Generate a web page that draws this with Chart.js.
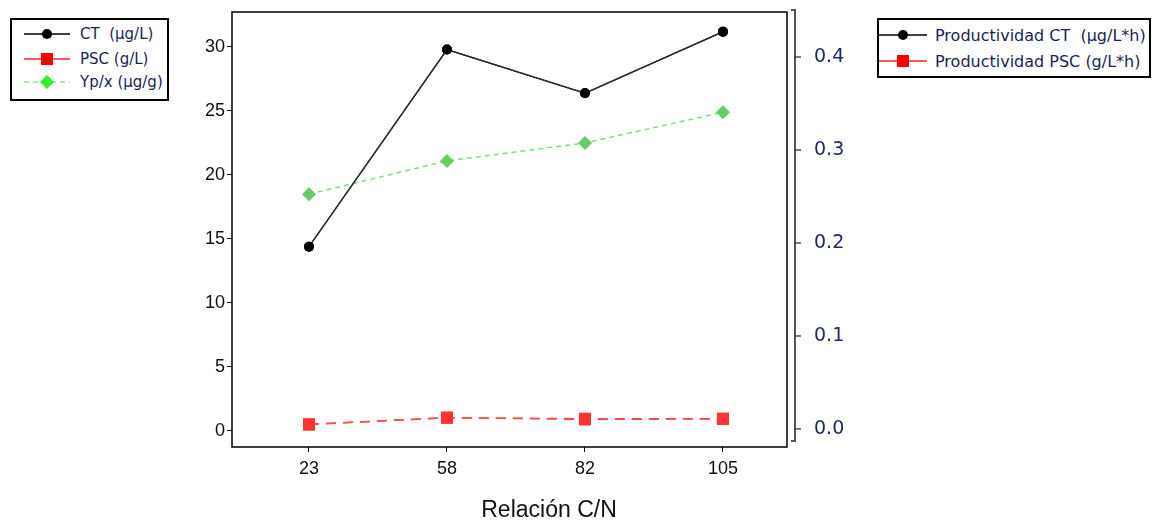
<!DOCTYPE html>
<html lang="es">
<head>
<meta charset="UTF-8">
<title>Relación C/N</title>
<script src="https://cdn.jsdelivr.net/npm/chart.js"></script>
<style>
    body { margin: 0; background: #fff; }
    #wrap { position: relative; width: 1156px; height: 523px; }
    #chart { position: absolute; left: 0; top: 0; }
    #tituloX {
        position: absolute;
        left: 449px; width: 200px; top: 495px;
        text-align: center;
        font-family: 'Liberation Sans', Arial, sans-serif;
        font-size: 23px;
        line-height: 28px;
        color: #111;
    }
    .legend {
        position: absolute;
        border: 2px solid #000;
        background: #fff;
        font-family: 'DejaVu Sans', sans-serif;
        color: #1b1f55;
        box-sizing: border-box;
    }
    .legend .row { position: absolute; left: 0; height: 20px; white-space: nowrap; }
    .legend svg { position: absolute; top: 0; }
    .legend span { position: absolute; top: -1px; }
    #legLeft { left: 10px; top: 18px; width: 159px; height: 83px; font-size: 15px; }
    #legRight { left: 877px; top: 18px; width: 274px; height: 60px; font-size: 16px; }
</style>
</head>
<body>
<div id="wrap">
    <canvas id="chart" width="1156" height="523"></canvas>
    <div id="tituloX">Relación C/N</div>
    <div class="legend" id="legLeft"></div>
    <div class="legend" id="legRight"></div>
</div>
<script>
// datos
var categorias = ['23', '58', '82', '105'];
var ct = [14.4, 29.8, 26.4, 31.2];          // CT (µg/L)
var psc = [0.5, 1.05, 0.9, 0.95];            // PSC (g/L)
var ypx = [18.5, 21.1, 22.5, 24.9];          // Yp/x (µg/g)
var prodCT = [0.196, 0.408, 0.361, 0.427];   // Productividad CT (µg/L*h)
var prodPSC = [0.005, 0.012, 0.011, 0.011];  // Productividad PSC (g/L*h)

var ticksIzq = [0, 5, 10, 15, 20, 25, 30];
var ticksDer = [0, 0.1, 0.2, 0.3, 0.4];

function puntos(arr) {
    return arr.map(function (v, i) { return { x: i, y: v }; });
}

var estilos = {
    ct:  { color: '#2b2b2b', fill: '#000', point: 'circle', radius: 5, dash: [], width: 1.3 },
    psc: { color: '#ff4a4a', fill: '#ff3333', point: 'rect', radius: 8.5, dash: [10, 7], width: 1.5 },
    ypx: { color: '#7fdf7f', fill: '#66cc66', point: 'rectRot', radius: 7, dash: [5, 4], width: 1.5 }
};

function serie(label, data, est, eje) {
    return {
        label: label,
        data: puntos(data),
        yAxisID: eje,
        borderColor: est.color,
        backgroundColor: est.fill,
        borderWidth: est.width,
        borderDash: est.dash,
        pointStyle: est.point,
        pointRadius: est.radius,
        pointBorderWidth: 0,
        pointBackgroundColor: est.fill,
        tension: 0
    };
}

function sinPadding(s) {
    s.paddingTop = 0;
    s.paddingBottom = 0;
    s.paddingLeft = 0;
    s.paddingRight = 0;
}

// marco del area y eje derecho separado
var marco = {
    id: 'marco',
    afterDraw: function (chart) {
        var ctx = chart.ctx, a = chart.chartArea;
        ctx.save();
        ctx.strokeStyle = '#000';
        ctx.lineWidth = 1.5;
        ctx.strokeRect(a.left, a.top, a.right - a.left, a.bottom - a.top);
        var x = a.right + 8;
        ctx.strokeStyle = '#555';
        ctx.lineWidth = 2;
        ctx.beginPath();
        ctx.moveTo(x - 4, a.top - 2);
        ctx.lineTo(x, a.top - 2);
        ctx.lineTo(x, a.bottom - 6);
        ctx.lineTo(x - 4, a.bottom - 6);
        ctx.stroke();
        ctx.strokeStyle = '#222';
        ctx.lineWidth = 1.2;
        ticksDer.forEach(function (t) {
            var y = chart.scales.y1.getPixelForValue(t);
            ctx.beginPath();
            ctx.moveTo(x, y);
            ctx.lineTo(x + 6, y);
            ctx.stroke();
        });
        ctx.restore();
    }
};

new Chart(document.getElementById('chart'), {
    type: 'line',
    data: {
        datasets: [
            serie('Productividad CT  (µg/L*h)', prodCT, estilos.ct, 'y1'),
            serie('Productividad PSC (g/L*h)', prodPSC, estilos.psc, 'y1'),
            serie('CT  (µg/L)', ct, estilos.ct, 'y'),
            serie('PSC (g/L)', psc, estilos.psc, 'y'),
            serie('Yp/x (µg/g)', ypx, estilos.ypx, 'y')
        ]
    },
    options: {
        responsive: false,
        animation: false,
        layout: { padding: { top: 12, left: 0, right: 0, bottom: 0 } },
        plugins: { legend: { display: false }, tooltip: { enabled: false } },
        scales: {
            x: {
                type: 'linear',
                min: -0.558,
                max: 3.464,
                afterBuildTicks: function (s) { s.ticks = categorias.map(function (c, i) { return { value: i }; }); },
                afterFit: function (s) { s.height = 76; sinPadding(s); },
                grid: { drawOnChartArea: false, color: '#000', tickLength: 5 },
                border: { display: false },
                ticks: {
                    padding: 6,
                    color: '#111',
                    font: { family: "'Liberation Sans', Arial, sans-serif", size: 18 },
                    callback: function (v) { return categorias[v]; }
                }
            },
            y: {
                position: 'left',
                min: -1.25,
                max: 32.73,
                afterBuildTicks: function (s) { s.ticks = ticksIzq.map(function (v) { return { value: v }; }); },
                afterFit: function (s) { s.width = 232; sinPadding(s); },
                grid: { drawOnChartArea: false, color: '#000', tickLength: 5 },
                border: { display: false },
                ticks: {
                    padding: 2,
                    color: '#111',
                    font: { family: "'Liberation Sans', Arial, sans-serif", size: 18 }
                }
            },
            y1: {
                position: 'right',
                min: -0.0194,
                max: 0.4484,
                afterBuildTicks: function (s) { s.ticks = ticksDer.map(function (v) { return { value: v }; }); },
                afterFit: function (s) { s.width = 369; sinPadding(s); },
                grid: { display: false },
                border: { display: false },
                ticks: {
                    padding: 19,
                    color: '#1f2a60',
                    font: { family: "'DejaVu Sans', sans-serif", size: 19 },
                    callback: function (v) { return v.toFixed(1); }
                }
            }
        }
    },
    plugins: [marco]
});

// leyendas en html
function muestra(est, ancho, linea, relleno, solida) {
    var m = ancho / 2, s;
    var dash = (!solida && est.dash.length) ? ' stroke-dasharray="' + est.dash.join(',') + '"' : '';
    if (est.point === 'circle') s = '<circle cx="' + m + '" cy="8" r="5" fill="' + relleno + '"/>';
    else if (est.point === 'rect') s = '<rect x="' + (m - 6) + '" y="2" width="12" height="12" fill="' + relleno + '"/>';
    else s = '<polygon points="' + m + ',1 ' + (m + 7) + ',8 ' + m + ',15 ' + (m - 7) + ',8" fill="' + relleno + '"/>';
    return '<line x1="0" y1="8" x2="' + ancho + '" y2="8" stroke="' + linea + '" stroke-width="1.5"' + dash + '/>' + s;
}

function leyenda(id, items, xLinea, ancho, xTexto, ys) {
    var html = '';
    items.forEach(function (it, i) {
        html += '<div class="row" style="top:' + ys[i] + 'px"><svg style="left:' + xLinea + 'px" width="' + ancho + '" height="16">' +
            muestra(it[1], ancho, it[2], it[3], it[4]) +
            '</svg><span style="left:' + xTexto + 'px">' + it[0] + '</span></div>';
    });
    document.getElementById(id).innerHTML = html;
}

leyenda('legLeft', [
    ['CT&nbsp;&nbsp;(µg/L)', estilos.ct, '#000', '#000', true],
    ['PSC (g/L)', estilos.psc, '#ff2020', '#ff0000', true],
    ['Yp/x (µg/g)', estilos.ypx, '#88ee88', '#33ee33', false]
], 12, 46, 68, [6, 31, 54]);

leyenda('legRight', [
    ['Productividad CT&nbsp;&nbsp;(µg/L*h)', estilos.ct, '#000', '#000', true],
    ['Productividad PSC (g/L*h)', estilos.psc, '#ff2020', '#ff0000', true]
], 0, 48, 56, [7, 33]);
</script>
</body>
</html>
